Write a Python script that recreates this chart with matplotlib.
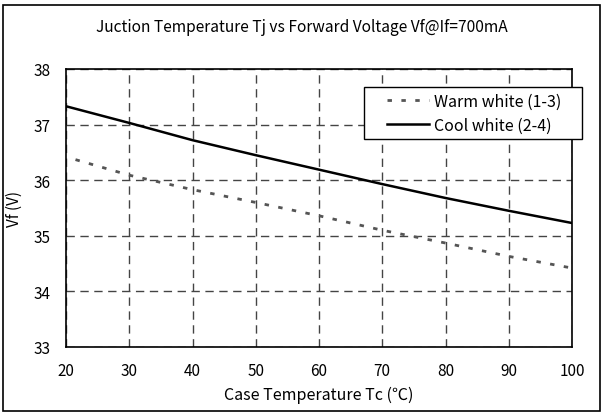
import numpy as np
import matplotlib.pyplot as plt
from matplotlib.patches import Rectangle
from matplotlib.legend_handler import HandlerLine2D

plt.rcParams['font.family'] = ['Noto Sans CJK JP', 'DejaVu Sans']

# case temperature (°C)
tc = [20, 30, 40, 50, 60, 70, 80, 90, 100]
tc_warm = [21.5, 30, 40, 50, 60, 70, 80, 90, 100]
# forward voltage readings
vf_warm = [36.37, 36.09, 35.83, 35.60, 35.36, 35.10, 34.87, 34.63, 34.42]
vf_cool = [37.33, 37.03, 36.72, 36.45, 36.19, 35.93, 35.68, 35.45, 35.23]

fig = plt.figure(figsize=(6.03, 4.14), dpi=100)
ax = fig.add_axes([66/603, 1 - 348/414, (572-66)/603, (348-70)/414])

l1, = ax.plot(tc_warm, vf_warm, color='#555555', lw=2, linestyle=(0, (1.6, 3.4)),
              label='Warm white (1-3)')
l2, = ax.plot(tc, vf_cool, color='black', lw=1.8, label='Cool white (2-4)')

ax.set_xlim(20, 100)
ax.set_ylim(33, 38)
ax.set_xticks(tc)
ax.set_yticks([33, 34, 35, 36, 37, 38])
ax.tick_params(length=0, labelsize=11, pad=11)
ax.grid(True, color='#444444', linestyle=(0, (6, 4)), lw=1)
for s in ax.spines.values():
    s.set_linewidth(1.2)

ax.set_xlabel('Case Temperature Tc (℃)', fontsize=11.5, labelpad=5)
ax.set_ylabel('Vf (V)', fontsize=11, labelpad=8)
fig.text(0.5, 1 - 27/414, 'Juction Temperature Tj vs Forward Voltage Vf@If=700mA',
         ha='center', va='center', fontsize=11.2)

hm = {l1: HandlerLine2D(xpad=1.1), l2: HandlerLine2D(xpad=1.1)}
leg = ax.legend(loc='upper left',
                bbox_to_anchor=((364-66)/(572-66), 0, (582-364)/(572-66), 1 - 18/278),
                mode='expand',
                fontsize=11.5, frameon=True, fancybox=False, edgecolor='black',
                framealpha=1, handlelength=3.75, handletextpad=0.3,
                borderpad=0.35, labelspacing=0.45, borderaxespad=0,
                handler_map=hm)
leg.get_frame().set_linewidth(1)

fig.patches.append(Rectangle((3/603, 2/414), 597/603, 406/414, transform=fig.transFigure,
                             fill=False, edgecolor='black', lw=1.2))

fig.savefig('out.png', dpi=100)
